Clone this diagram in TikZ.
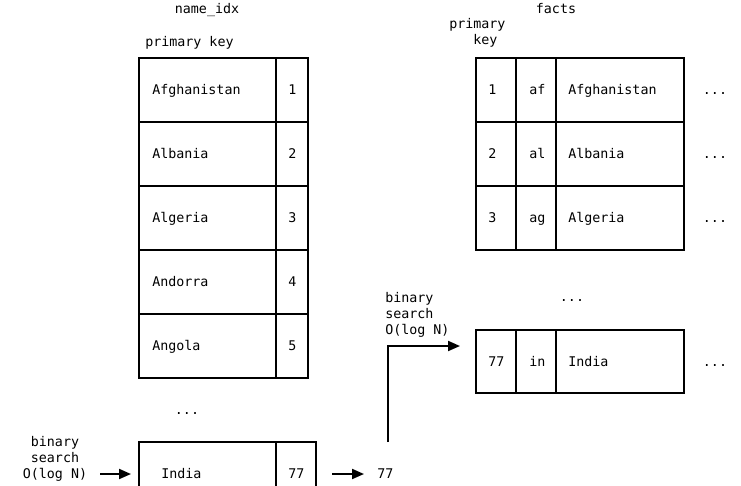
\documentclass[tikz,border=0pt]{standalone}
\usepackage{fontspec}
\setmonofont{DejaVu Sans Mono}
\usetikzlibrary{arrows.meta}

\begin{document}
\begin{tikzpicture}[x=0.75pt,y=0.75pt,yscale=-1,xscale=1,
  every node/.style={font=\ttfamily\fontsize{10}{12}\selectfont},
  grid/.style={line width=1.5pt},
  rowbox/.style={draw,line width=1.5pt,inner sep=0pt},
  arr/.style={line width=1.5pt,-{Triangle[length=9pt,width=7.5pt]}},
  txt/.style={anchor=base west,inner sep=0pt},
  ctr/.style={anchor=base,inner sep=0pt}]
\useasboundingbox (0,0) rectangle (741,485);
\clip (0,0) rectangle (741,485);

%Shape: Rectangle name_idx rows
\draw [grid] (139,58) rectangle (308,122);
\draw [grid] (139,122) rectangle (308,186);
\draw [grid] (139,186) rectangle (308,250);
\draw [grid] (139,250) rectangle (308,314);
\draw [grid] (139,314) rectangle (308,378);
%Straight Lines name_idx divider
\draw [grid] (276,58) -- (276,378);
%Shape: Rectangle name_idx india row
\node [rowbox, minimum width=132.75pt, minimum height=48pt] (idxrow) at (227.5,474) {};
\draw [grid] (276,442) -- (276,506);

%Shape: Rectangle facts rows
\draw [grid] (476,58) rectangle (684,122);
\draw [grid] (476,122) rectangle (684,186);
\draw [grid] (476,186) rectangle (684,250);
%Straight Lines facts dividers
\draw [grid] (516,58) -- (516,250);
\draw [grid] (556,58) -- (556,250);
%Shape: Rectangle facts india row
\draw [grid] (476,330) rectangle (684,393);
\draw [grid] (516,330) -- (516,393);
\draw [grid] (556,330) -- (556,393);

% Text Node headers
\node [ctr] (idxtitle) at (207,14) {name\_idx};
\node [txt] (idxkey) at (145,46) {primary key};
\node [ctr] (factstitle) at (556,14) {facts};
\node [txt, align=left] (factskey) at (449,45) {primary\\\phantom{pri}key};

% Text Node name_idx
\node [txt] (afname) at (152,94) {Afghanistan};
\node [txt] (alname) at (152,158) {Albania};
\node [txt] (agname) at (152,222) {Algeria};
\node [txt] (adname) at (152,286) {Andorra};
\node [txt] (aoname) at (152,350) {Angola};
\node [txt] (afid) at (288,94) {1};
\node [txt] (alid) at (288,158) {2};
\node [txt] (agid) at (288,222) {3};
\node [txt] (adid) at (288,286) {4};
\node [txt] (aoid) at (288,350) {5};
\node [ctr] (idxdots) at (187,414) {...};
\node [txt] (inname) at (161,478) {India};
\node [txt] (inid) at (288,478) {77};

% Text Node facts
\node [txt] (fafid) at (488,94) {1};
\node [txt] (fafcode) at (529,94) {af};
\node [txt] (fafname) at (568,94) {Afghanistan};
\node [ctr] (fafmore) at (715,94) {...};
\node [txt] (falid) at (488,158) {2};
\node [txt] (falcode) at (529,158) {al};
\node [txt] (falname) at (568,158) {Albania};
\node [ctr] (falmore) at (715,158) {...};
\node [txt] (fagid) at (488,222) {3};
\node [txt] (fagcode) at (529,222) {ag};
\node [txt] (fagname) at (568,222) {Algeria};
\node [ctr] (fagmore) at (715,222) {...};
\node [ctr] (factsdots) at (572,301) {...};
\node [txt] (finid) at (488,366) {77};
\node [txt] (fincode) at (529,366) {in};
\node [txt] (finname) at (568,366) {India};
\node [ctr] (finmore) at (715,366) {...};

% Text Node searches
\node [ctr, align=center] (bsl) at (55,478) {binary\\search\\O(log N)};
\node [txt, align=left] (bsr) at (385,334) {binary\\search\\O(log N)};
\node [txt] (k77) at (377,478) {77};

%Straight Lines arrows
\draw [arr, shorten <=9.75pt, shorten >=5.25pt] (bsl.east |- idxrow.west) -- (idxrow.west);
\draw [arr, shorten <=11.25pt, shorten >=9.75pt] (idxrow.east) -- (idxrow.east -| k77.west);
\coordinate (hit) at (460,346);
\draw [arr] ([shift={(3,-31)}]k77.center) |- (hit);

\end{tikzpicture}
\end{document}
